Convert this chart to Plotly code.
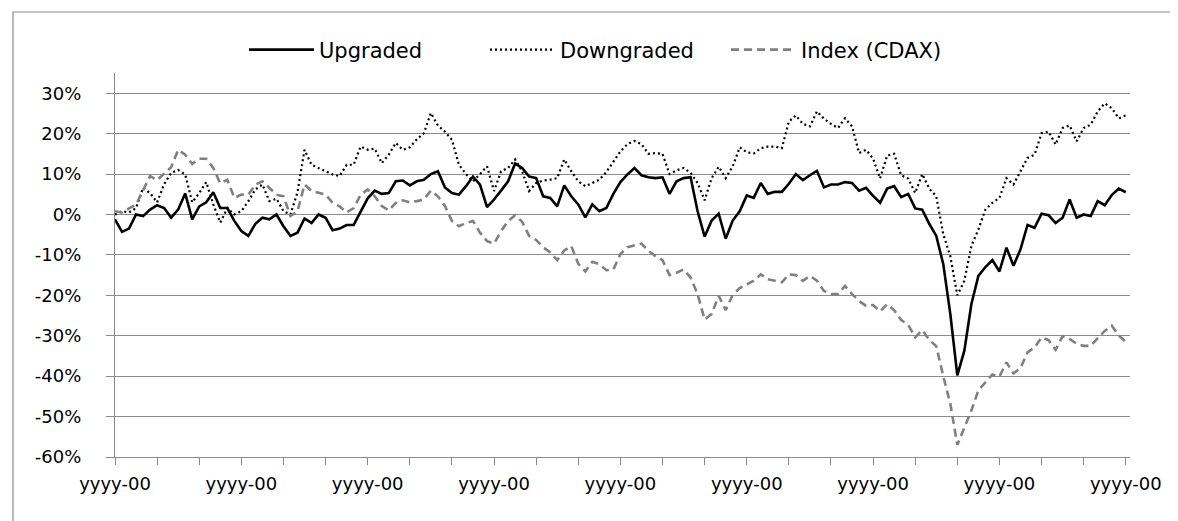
import plotly.graph_objects as go

# x positions: index of observation (6 per tick interval)
upgraded = [-1.2, -4.3, -3.5, 0.0, -0.4, 1.2, 2.3, 1.6, -0.8, 1.2, 5.2, -1.2, 2.0, 3.0, 5.5, 1.6, 1.6, -1.6,
            -4.1, -5.3, -2.3, -0.8, -1.2, 0.0, -2.9, -5.3, -4.5, -1.0, -2.1, 0.0, -0.8, -3.9, -3.5, -2.6, -2.6, 0.8,
            4.0, 5.9, 5.1, 5.3, 8.2, 8.4, 7.2, 8.2, 8.6, 10.0, 10.7, 6.7, 5.3, 4.9, 7.0, 9.4, 7.4, 1.8,
            3.7, 5.9, 8.2, 12.6, 11.5, 9.4, 9.0, 4.5, 4.1, 2.0, 7.2, 4.5, 2.5, -0.7, 2.5, 0.8, 1.6, 5.1,
            8.0, 9.9, 11.5, 9.7, 9.2, 9.0, 9.2, 5.1, 8.2, 9.0, 9.2, 0.8, -5.5, -1.5, 0.2, -6.0, -1.5, 0.8,
            4.7, 4.1, 7.8, 5.1, 5.6, 5.6, 7.6, 10.0, 8.5, 9.7, 10.8, 6.7, 7.4, 7.4, 8.0, 7.8, 5.9, 6.6,
            4.6, 2.9, 6.4, 7.0, 4.3, 5.1, 1.5, 1.2, -2.3, -5.3, -12.3, -24.6, -39.8, -33.7, -22.2, -15.2, -13.0, -11.3,
            -14.1, -8.2, -12.7, -8.6, -2.6, -3.3, 0.2, -0.2, -2.1, -0.8, 3.7, -0.8, 0.0, -0.4, 3.3, 2.3, 4.8, 6.4,
            5.5]

downgraded = [0.0, 0.8, 0.5, 1.6, 6.6, 5.3, 3.0, 7.5, 10.3, 11.0, 9.9, 3.0, 5.3, 8.0, 2.5, -2.0, 1.6, 0.0,
              0.8, 3.3, 6.2, 7.4, 3.3, 3.9, 0.8, 0.0, 5.5, 16.0, 12.3, 11.5, 10.7, 9.9, 9.5, 12.3, 12.3, 16.8,
              16.0, 16.3, 12.7, 14.8, 17.7, 16.0, 16.6, 18.6, 20.1, 25.1, 22.0, 20.5, 18.5, 12.3, 10.0, 8.2, 10.0, 11.9,
              5.8, 10.7, 11.5, 13.6, 10.7, 5.8, 7.8, 8.4, 8.6, 9.0, 13.6, 10.7, 8.2, 7.0, 7.8, 8.6, 10.5, 13.1,
              15.6, 17.4, 18.2, 17.4, 15.0, 15.2, 15.0, 10.0, 10.9, 11.5, 10.3, 7.8, 3.5, 9.0, 11.8, 9.0, 11.9, 16.6,
              15.4, 15.1, 16.4, 16.8, 16.8, 16.4, 23.0, 24.5, 22.4, 21.8, 25.5, 23.7, 22.4, 21.4, 23.8, 21.8, 15.2, 16.0,
              13.8, 8.9, 14.6, 15.0, 9.7, 8.9, 5.3, 10.0, 6.4, 4.5, -4.9, -10.3, -20.0, -16.4, -7.8, -3.7, 1.2, 2.9,
              4.1, 9.0, 7.4, 10.7, 14.0, 14.8, 20.1, 20.5, 17.3, 21.4, 22.0, 18.1, 21.4, 22.2, 25.5, 27.5, 26.3, 23.8,
              24.5]

index_cdax = [0.8, 0.5, 1.5, 2.5, 6.0, 9.5, 8.5, 10.0, 11.7, 16.0, 14.8, 12.5, 13.8, 13.8, 11.5, 7.7, 8.6, 4.1,
              4.9, 4.9, 7.4, 8.2, 6.6, 4.9, 4.5, -0.4, 0.8, 7.4, 5.8, 5.3, 4.9, 2.9, 2.0, 0.5, 1.6, 4.9,
              6.2, 4.5, 2.1, 1.0, 2.9, 3.5, 3.0, 3.3, 3.7, 5.9, 4.5, 2.1, -1.6, -2.9, -2.1, -1.6, -4.5, -6.6,
              -7.2, -4.1, -1.6, -0.2, -1.8, -5.3, -6.3, -8.1, -9.4, -11.3, -8.9, -7.8, -12.2, -14.1, -11.7, -12.3, -13.8, -13.6,
              -9.8, -8.1, -7.6, -7.2, -9.0, -10.3, -11.3, -15.0, -14.4, -13.6, -15.6, -19.7, -26.0, -24.6, -20.1, -23.7, -19.9, -18.2,
              -17.3, -16.4, -14.8, -16.0, -16.4, -16.8, -14.8, -15.0, -16.4, -15.2, -16.4, -18.9, -19.7, -19.7, -17.7, -19.7, -21.4, -22.6,
              -22.4, -24.0, -22.2, -23.7, -26.1, -27.3, -30.4, -28.6, -31.0, -32.6, -40.0, -46.8, -57.0, -52.6, -48.5, -43.5, -41.5, -39.6,
              -40.1, -36.6, -39.3, -38.0, -34.1, -32.9, -30.4, -31.1, -33.5, -30.1, -30.8, -32.0, -32.5, -32.5, -30.6, -28.8, -27.5, -30.0,
              -31.5]

x_tick_labels = ["yyyy-00", "", "", "yyyy-00", "", "", "yyyy-00", "", "", "yyyy-00", "", "", "yyyy-00",
                 "", "", "yyyy-00", "", "", "yyyy-00", "", "", "yyyy-00", "", "", "yyyy-00"]
y_tick_values = [-60, -50, -40, -30, -20, -10, 0, 10, 20, 30]
y_tick_labels = ["-60%", "-50%", "-40%", "-30%", "-20%", "-10%", "0%", "10%", "20%", "30%"]

series_names = ["Upgraded", "Downgraded", "Index (CDAX)"]

x = list(range(len(upgraded)))
x_tick_vals = [i * 6 for i in range(len(x_tick_labels))]

FONT = "DejaVu Sans"
GRID = "#8a8a8a"

fig = go.Figure()
fig.add_trace(go.Scatter(x=x, y=upgraded, name=series_names[0], mode="lines",
                         line=dict(color="#000000", width=2.6)))
fig.add_trace(go.Scatter(x=x, y=downgraded, name=series_names[1], mode="lines",
                         line=dict(color="#000000", width=2.2, dash="2px,3px")))
fig.add_trace(go.Scatter(x=x, y=index_cdax, name=series_names[2], mode="lines",
                         line=dict(color="#808080", width=2.6, dash="8px,5px")))

L, R, T, B = 107, 56, 65, 72
W, H = 1178, 521
pw, ph = W - L - R, H - T - B

def px_to_paper_x(px):
    return (px - L) / pw

def px_to_paper_y(py):
    return (H - B - py) / ph

fig.add_shape(type="rect", xref="paper", yref="paper",
              x0=px_to_paper_x(5), x1=px_to_paper_x(1172),
              y0=px_to_paper_y(516), y1=px_to_paper_y(4),
              line=dict(color="#8a8a8a", width=1.2), fillcolor="rgba(0,0,0,0)", layer="below")

fig.update_layout(
    width=W, height=H,
    margin=dict(l=L, r=R, t=T, b=B, pad=0),
    paper_bgcolor="white", plot_bgcolor="white",
    font=dict(family=FONT, size=18, color="#000000"),
    showlegend=True,
    legend=dict(orientation="h", x=px_to_paper_x(236), xanchor="left", y=px_to_paper_y(42), yanchor="middle",
                font=dict(family=FONT, size=21, color="#000000"),
                itemwidth=65, entrywidth=161, entrywidthmode="pixels",
                bgcolor="rgba(0,0,0,0)", traceorder="normal"),
    xaxis=dict(range=[0, 144.6], tickmode="array", tickvals=x_tick_vals, ticktext=x_tick_labels,
               showgrid=False, zeroline=False, showline=True, linecolor=GRID, linewidth=1.3,
               ticks="outside", ticklen=7, tickcolor=GRID, tickwidth=1.3,
               tickfont=dict(family=FONT, size=18, color="#000000"), ticklabelstandoff=3),
    yaxis=dict(range=[-60, 35], tickmode="array", tickvals=y_tick_values, ticktext=y_tick_labels,
               showgrid=True, gridcolor=GRID, gridwidth=1.3, zeroline=False,
               showline=True, linecolor=GRID, linewidth=1.3,
               ticks="outside", ticklen=8, tickcolor=GRID, tickwidth=1.3,
               tickfont=dict(family=FONT, size=18, color="#000000"), ticklabelstandoff=21),
)

fig.write_html("out.html")
